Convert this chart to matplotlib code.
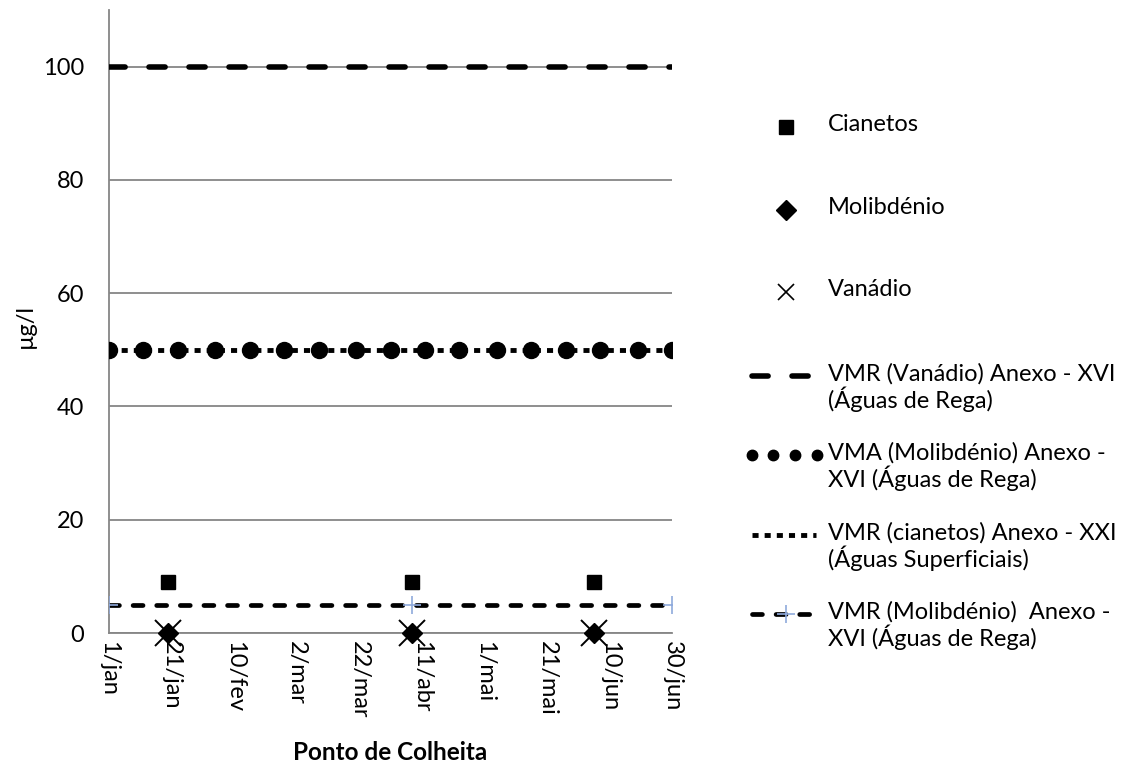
import numpy as np
import pandas as pd
import matplotlib
matplotlib.use("Agg")
import matplotlib.pyplot as plt

plt.rcParams['font.family'] = ['Lato', 'DejaVu Sans']

# sample dates and measured values (µg/l)
sample_dates = pd.to_datetime(['2013-01-20', '2013-04-08', '2013-06-05'])
cianetos = [9, 9, 9]
molibdenio = [0, 0, 0]
vanadio = [0, 0, 0]

# reference limits
vmr_vanadio_dates = pd.to_datetime(['2013-01-01', '2013-06-30'])
vmr_vanadio = [100, 100]
vma_mo_dates = pd.to_datetime([
    '2013-01-01', '2013-01-12', '2013-01-23', '2013-02-04', '2013-02-15',
    '2013-02-26', '2013-03-09', '2013-03-21', '2013-04-01', '2013-04-12',
    '2013-04-23', '2013-05-05', '2013-05-16', '2013-05-27', '2013-06-07',
    '2013-06-19', '2013-06-30'])
vma_mo = [50] * 17
vmr_cian_dates = pd.to_datetime(['2013-01-01', '2013-06-30'])
vmr_cian = [50, 50]
vmr_mo_dates = pd.to_datetime(['2013-01-01', '2013-04-08', '2013-06-30'])
vmr_mo = [5, 5, 5]

tick_dates = pd.to_datetime(['2013-01-01', '2013-01-21', '2013-02-10', '2013-03-02',
                             '2013-03-22', '2013-04-11', '2013-05-01', '2013-05-21',
                             '2013-06-10', '2013-06-30'])
tick_labels = ['1/jan', '21/jan', '10/fev', '2/mar', '22/mar', '11/abr',
               '1/mai', '21/mai', '10/jun', '30/jun']

legend_labels = ['Cianetos', 'Molibdénio', 'Vanádio',
                 'VMR (Vanádio) Anexo - XVI\n(Águas de Rega)',
                 'VMA (Molibdénio) Anexo -\nXVI (Águas de Rega)',
                 'VMR (cianetos) Anexo - XXI\n(Águas Superficiais)',
                 'VMR (Molibdénio)  Anexo -\nXVI (Águas de Rega)']

FS = 17
GRID = "#868686"
PLUS = "#8FAADC"

# styles shared by chart and legend
st_cian = dict(ls='none', marker='s', ms=10.5, color='black')
st_mo = dict(ls='none', marker='D', ms=10, color='black')
st_va = dict(ls='none', marker='x', ms=19, mew=1.4, color='black')
st_vmr_va = dict(ls=(0, (2.9, 4.3)), lw=4, color='black', dash_capstyle='round')
st_vma_mo = dict(ls='none', marker='o', ms=11.5, color='black')
st_vmr_cian = dict(ls=(0, (1.25, 1.25)), lw=3.5, color='black')
st_vmr_mo = dict(ls=(0, (2.1, 2.9)), lw=3.4, color='black', dash_capstyle='round',
                 marker='+', ms=13, mew=1.2, mec=PLUS)

fig = plt.figure(figsize=(11.29, 7.69), dpi=100)
ax = fig.add_axes([109 / 1129, 1 - 633 / 769, 563 / 1129, 623 / 769])

ax.plot(vmr_vanadio_dates, vmr_vanadio, zorder=3, **st_vmr_va)
ax.plot(vmr_cian_dates, vmr_cian, zorder=3, **st_vmr_cian)
ax.plot(vma_mo_dates, vma_mo, zorder=4, **st_vma_mo)
ax.plot(vmr_mo_dates, vmr_mo, zorder=3, **st_vmr_mo)
ax.plot(sample_dates, cianetos, zorder=5, clip_on=False, **st_cian)
ax.plot(sample_dates, molibdenio, zorder=5, clip_on=False, **st_mo)
ax.plot(sample_dates, vanadio, zorder=6, clip_on=False, **st_va)

ax.set_xlim(tick_dates[0], tick_dates[-1])
ax.set_ylim(0, 110)
ax.set_yticks([0, 20, 40, 60, 80, 100])
ax.set_xticks(tick_dates)
ax.set_xticklabels(tick_labels, rotation=270, fontsize=FS)
ax.tick_params(axis='y', labelsize=FS, length=0, pad=18)
ax.tick_params(axis='x', length=0, pad=6)
ax.yaxis.grid(True, color=GRID, lw=1.3)
ax.set_axisbelow(True)
for s in ['top', 'right']:
    ax.spines[s].set_visible(False)
for s in ['left', 'bottom']:
    ax.spines[s].set_color(GRID)
    ax.spines[s].set_linewidth(1.3)

fig.text(25 / 1129, 1 - 326 / 769, 'µg/l', rotation=90, fontsize=FS, ha='center', va='center')
fig.text(390 / 1129, 1 - 753 / 769, 'Ponto de Colheita', fontsize=17.5, fontweight='bold',
         ha='center', va='center')

# legend drawn in pixel coordinates
lax = fig.add_axes([0, 0, 1, 1])
lax.set_xlim(0, 1129)
lax.set_ylim(769, 0)
lax.axis('off')
entry_y = [127, 210, 292, 376, 455, 535, 614]
styles = [st_cian, st_mo, st_va, st_vmr_va, st_vma_mo, st_vmr_cian, st_vmr_mo]
for i, (y, st, lab) in enumerate(zip(entry_y, styles, legend_labels)):
    if i < 3:
        s = dict(st)
        if i == 2:
            s['ms'] = 12
            s['mew'] = 1.2
        lax.plot([786], [y], **s)
    elif i == 4:
        lax.plot([752, 773, 795, 817], [y] * 4, ls='none', marker='o', ms=7.5, color='black')
    elif i == 6:
        s = dict(st)
        s['marker'] = None
        lax.plot([752, 814], [y, y], **s)
        lax.plot([786], [y], ls='none', marker='+', ms=13, mew=1.2, color=PLUS)
    else:
        lax.plot([752, 816], [y, y], **st)
    lax.text(828, y - 13, lab, fontsize=FS, va='top', ha='left', linespacing=1.1)

fig.savefig('out.png', dpi=100)
